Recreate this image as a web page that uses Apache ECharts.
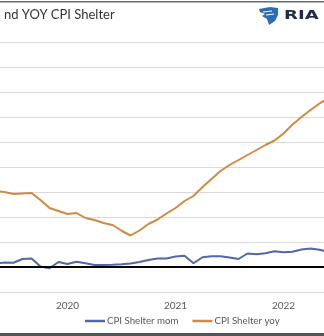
<!DOCTYPE html>
<html>
<head>
<meta charset="utf-8">
<script src="https://cdn.jsdelivr.net/npm/echarts@6/dist/echarts.min.js"></script>
<style>
html,body{margin:0;padding:0;background:#fff;}
#c{width:324px;height:336px;}
</style>
</head>
<body>
<div id="c"></div>
<script>
// Monthly data, Nov 2019 .. Dec 2022
const months = ['2019-11','2019-12',
  '2020-01','2020-02','2020-03','2020-04','2020-05','2020-06','2020-07','2020-08','2020-09','2020-10','2020-11','2020-12',
  '2021-01','2021-02','2021-03','2021-04','2021-05','2021-06','2021-07','2021-08','2021-09','2021-10','2021-11','2021-12',
  '2022-01','2022-02','2022-03','2022-04','2022-05','2022-06','2022-07','2022-08','2022-09','2022-10','2022-11','2022-12'];
const shelterMom = [0.14,0.18,
  0.17,0.32,0.34,0.02,-0.05,0.20,0.12,0.21,0.15,0.08,0.08,0.09,
  0.11,0.14,0.20,0.28,0.34,0.34,0.42,0.45,0.15,0.39,0.43,0.43,
  0.38,0.32,0.54,0.51,0.55,0.63,0.59,0.61,0.70,0.74,0.69,0.60];
const shelterYoy = [3.04,3.00,
  2.92,2.94,2.96,2.68,2.36,2.24,2.12,2.16,1.96,1.88,1.76,1.68,
  1.45,1.26,1.46,1.72,1.90,2.14,2.36,2.64,2.84,3.20,3.52,3.84,
  4.08,4.28,4.48,4.68,4.88,5.06,5.34,5.70,6.00,6.28,6.54,6.76];
const yearLabels = ['2020','2021','2022'];
const titleText = 'nd YOY CPI Shelter';
const seriesNames = ['CPI Shelter mom','CPI Shelter yoy'];

// month index relative to Jan 2020
function mIdx(s){ const p = s.split('-'); return (+p[0]-2020)*12 + (+p[1]-1); }
const labelPos = yearLabels.map(y => (+y-2020)*12 + 6); // mid-year (1 July)

const chart = echarts.init(document.getElementById('c'), null, {renderer:'canvas'});
const font = 'Lato';
chart.setOption({
  animation:false,
  backgroundColor:'#fff',
  title:{text:titleText,left:-1,top:3,textStyle:{fontFamily:font,fontSize:13,fontWeight:'normal',color:'#333'}},
  grid:{left:0,right:0,top:42,bottom:44,containLabel:false},
  xAxis:{
    type:'value',
    min:-1.5,max:34.5,
    axisLine:{show:false},axisTick:{show:false},splitLine:{show:false},
    axisLabel:{
      customValues: labelPos,
      formatter: function(v){ return String(2020 + Math.floor(v/12)); },
      fontFamily:font,fontSize:10,color:'#595959',margin:9
    }
  },
  yAxis:{
    type:'value',min:-1,max:9,interval:1,
    axisLabel:{show:false},axisLine:{show:false},axisTick:{show:false},
    splitLine:{lineStyle:{color:'#dadada',width:1}}
  },
  legend:{
    data:seriesNames,left:85,top:316,padding:0,icon:'rect',itemWidth:20,itemHeight:2.5,itemGap:14,
    textStyle:{fontFamily:font,fontSize:9.7,color:'#595959',padding:[0,0,0,-3]}
  },
  series:[
    {name:seriesNames[0],type:'line',data:months.map((m,i)=>[mIdx(m),shelterMom[i]]),
     symbol:'none',lineStyle:{color:'#4d69a7',width:2},itemStyle:{color:'#4d69a7'},
     markLine:{silent:true,symbol:['none','none'],label:{show:false},
       lineStyle:{color:'#000',width:2,type:'solid'},data:[{yAxis:0}]}},
    {name:seriesNames[1],type:'line',data:months.map((m,i)=>[mIdx(m),shelterYoy[i]]),
     symbol:'none',lineStyle:{color:'#d08b40',width:2},itemStyle:{color:'#d08b40'}}
  ],
  graphic:[
    {type:'rect',shape:{x:0,y:1,width:324,height:1.5},style:{fill:'#6b6b6b'},silent:true},
    {type:'rect',shape:{x:0,y:333,width:324,height:3},style:{fill:'#555'},silent:true},
    {type:'polygon',shape:{points:[[259,9],[270,7],[278,8],[278,15],[275,21],[269,25],[267,19],[262,16],[265,14],[260,12]]},
     style:{fill:'#2a6db3'},silent:true},
    {type:'polyline',shape:{points:[[263,12],[272,11]]},style:{stroke:'#fff',lineWidth:1},silent:true},
    {type:'polyline',shape:{points:[[266,15],[274,14]]},style:{stroke:'#fff',lineWidth:1},silent:true},
    {type:'text',x:284,y:9,scaleX:1.45,style:{text:'RIA',font:'bold 12.5px "DejaVu Sans"',fill:'#1e2b4a'},silent:true}
  ]
});
</script>
</body>
</html>
